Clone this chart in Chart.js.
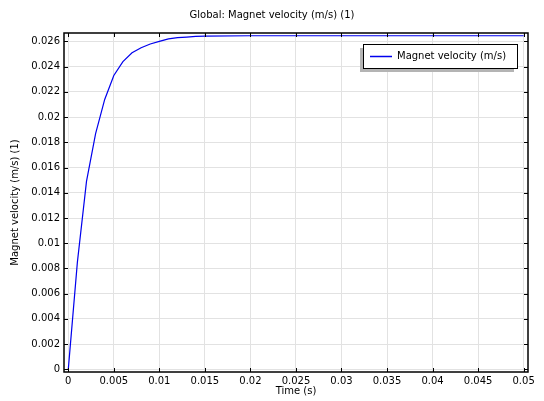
<!DOCTYPE html>
<html>
<head>
<meta charset="utf-8">
<script src="https://cdn.jsdelivr.net/npm/chart.js@4/dist/chart.umd.min.js"></script>
<style>
  html, body { margin: 0; padding: 0; background: #fff; }
  #wrap { width: 544px; height: 401px; position: relative; }
</style>
</head>
<body>
<div id="wrap"><canvas id="velocityChart"></canvas></div>
<script>
// data
const chartTitle = 'Global: Magnet velocity (m/s) (1)';
const seriesLabel = 'Magnet velocity (m/s)';
const timeS = [0, 0.001, 0.002, 0.003, 0.004, 0.005, 0.006, 0.007, 0.008, 0.009, 0.010,
    0.011, 0.012, 0.013, 0.014, 0.015, 0.020, 0.025, 0.030, 0.035, 0.040, 0.045, 0.050];
const velocity = [0, 0.0085, 0.0149, 0.0187, 0.0214, 0.0233, 0.0244, 0.0251, 0.0255, 0.0258, 0.0260,
    0.0262, 0.0263, 0.02635, 0.0264, 0.02642, 0.02645, 0.02645, 0.02645, 0.02645, 0.02645, 0.02645, 0.02645];
const xTickStep = 0.005;
const yTickStep = 0.002;

const FONT = 'DejaVu Sans';

function fmt(v) {
    return String(Number(v.toFixed(5)));
}

// frame, inward ticks, title and legend, COMSOL style
const comsolDecor = {
    id: 'comsolDecor',
    afterDraw(chart) {
        const c = chart.ctx;
        const a = chart.chartArea;
        const xs = chart.scales.x;
        const ys = chart.scales.y;
        c.save();
        c.strokeStyle = '#000';
        c.lineWidth = 1;
        c.beginPath();
        xs.ticks.forEach(t => {
            const px = Math.round(xs.getPixelForValue(t.value)) + 0.5;
            c.moveTo(px, a.bottom); c.lineTo(px, a.bottom - 4);
            c.moveTo(px, a.top); c.lineTo(px, a.top + 4);
        });
        ys.ticks.forEach(t => {
            const py = Math.round(ys.getPixelForValue(t.value)) + 0.5;
            c.moveTo(a.left, py); c.lineTo(a.left + 4, py);
            c.moveTo(a.right, py); c.lineTo(a.right - 4, py);
        });
        c.stroke();
        c.lineWidth = 1.5;
        c.strokeRect(a.left, a.top, a.right - a.left, a.bottom - a.top);

        // title
        c.fillStyle = '#000';
        c.font = '10px "' + FONT + '"';
        c.textAlign = 'center';
        c.textBaseline = 'middle';
        c.fillText(chartTitle, 272, 15);

        // legend box with shadow
        const lx = 363, ly = 44, lw = 154, lh = 24;
        c.fillStyle = '#b4b4b4';
        c.fillRect(lx - 3, ly + 4, lw, lh);
        c.fillStyle = '#fff';
        c.fillRect(lx, ly, lw, lh);
        c.lineWidth = 1;
        c.strokeStyle = '#000';
        c.strokeRect(lx + 0.5, ly + 0.5, lw, lh);
        c.strokeStyle = chart.data.datasets[0].borderColor;
        c.lineWidth = 1.5;
        c.beginPath();
        c.moveTo(lx + 7, ly + 12.5); c.lineTo(lx + 29, ly + 12.5);
        c.stroke();
        c.fillStyle = '#000';
        c.textAlign = 'left';
        c.fillText(chart.data.datasets[0].label, lx + 34, ly + 12.5);
        c.restore();
    }
};

const ctx = document.getElementById('velocityChart').getContext('2d');
new Chart(ctx, {
    type: 'line',
    data: {
        datasets: [{
            label: seriesLabel,
            data: timeS.map((t, i) => ({ x: t, y: velocity[i] })),
            borderColor: '#0000ee',
            borderWidth: 1.2,
            pointRadius: 0,
            tension: 0,
            fill: false
        }]
    },
    options: {
        responsive: true,
        maintainAspectRatio: false,
        animation: false,
        layout: { padding: { top: 33, right: 16, left: 0, bottom: 0 } },
        plugins: {
            legend: { display: false },
            title: { display: false },
            tooltip: { enabled: false }
        },
        scales: {
            x: {
                type: 'linear',
                min: -0.00047,
                max: 0.05048,
                afterFit: s => { s.height = 29; },
                border: { display: false },
                grid: { color: '#e2e2e2', drawTicks: false },
                ticks: {
                    stepSize: xTickStep,
                    includeBounds: false,
                    autoSkip: false,
                    maxRotation: 0,
                    padding: 3,
                    color: '#000',
                    font: { family: FONT, size: 10 },
                    callback: v => fmt(v)
                },
                title: {
                    display: true,
                    text: 'Time (s)',
                    color: '#000',
                    font: { family: FONT, size: 10 },
                    padding: { top: 0, bottom: 4 }
                }
            },
            y: {
                type: 'linear',
                min: -0.00021,
                max: 0.02667,
                afterFit: s => { s.width = 64; },
                border: { display: false },
                grid: { color: '#e2e2e2', drawTicks: false },
                ticks: {
                    stepSize: yTickStep,
                    includeBounds: false,
                    autoSkip: false,
                    padding: 4,
                    color: '#000',
                    font: { family: FONT, size: 10 },
                    callback: v => fmt(v)
                },
                title: {
                    display: true,
                    text: 'Magnet velocity (m/s) (1)',
                    color: '#000',
                    font: { family: FONT, size: 10 },
                    padding: { top: 9, bottom: 0 }
                }
            }
        }
    },
    plugins: [comsolDecor]
});
</script>
</body>
</html>
